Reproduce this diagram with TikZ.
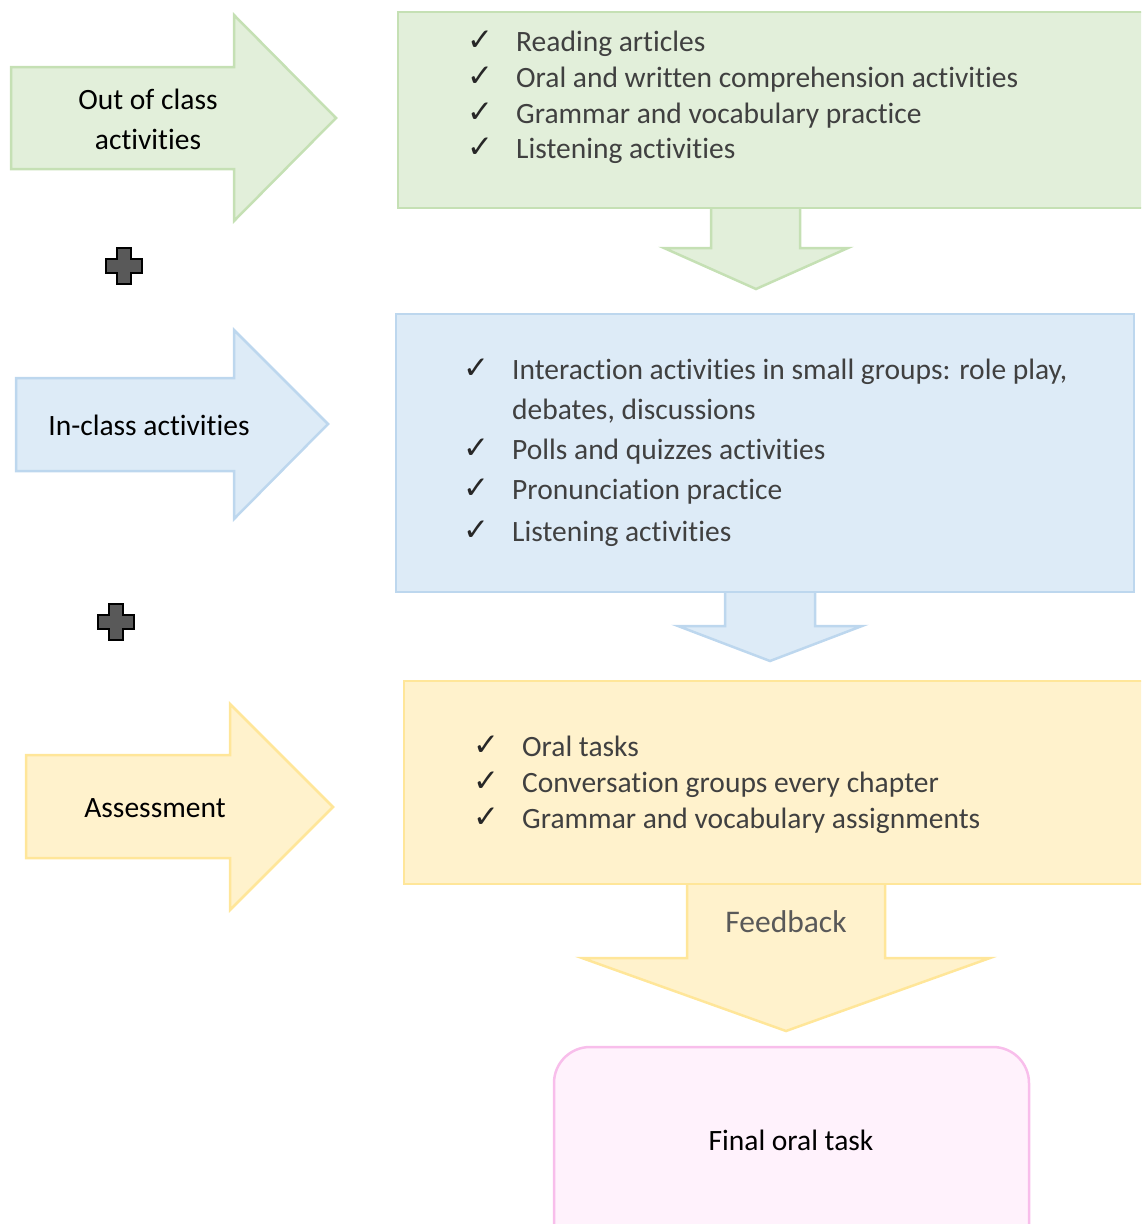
\documentclass[tikz,border=0pt]{standalone}
\usepackage{fontspec}
\setmainfont[Ligatures=CommonOff]{Carlito}
\newfontfamily\symfont{DejaVu Sans}
\definecolor{gfill}{HTML}{E2EFDA}
\definecolor{gline}{HTML}{C5E0B4}
\definecolor{bfill}{HTML}{DDEBF7}
\definecolor{bline}{HTML}{BDD7EE}
\definecolor{yfill}{HTML}{FFF2CC}
\definecolor{yline}{HTML}{FFE699}
\definecolor{pfill}{HTML}{FFF2FC}
\definecolor{pline}{HTML}{F8BEEB}
\definecolor{itemtext}{HTML}{404040}
\definecolor{fbtext}{HTML}{595959}
\definecolor{plusfill}{HTML}{595959}
\begin{document}
\begin{tikzpicture}[x=1pt,y=-1pt,
  shapeG/.style={fill=gfill,draw=gline,line width=2.5pt},
  shapeB/.style={fill=bfill,draw=bline,line width=2.5pt},
  shapeY/.style={fill=yfill,draw=yline,line width=2.5pt},
  shapeP/.style={fill=pfill,draw=pline,line width=2.5pt},
  lbl/.style={font=\fontsize{29.5}{40}\selectfont,text=black,align=center,inner sep=0pt},
  item/.style={font=\fontsize{29.5}{34}\selectfont,text=itemtext,anchor=base west,inner sep=0pt},
  tick/.style={font=\symfont\fontsize{31}{34}\selectfont,text=itemtext!60!black,anchor=base west,inner sep=0pt},
  plusshape/.style={fill=plusfill,draw=black,line width=2.8pt}]
\useasboundingbox (0,0) rectangle (1141,1224);
\clip (0,0) rectangle (1141,1224);

% ---------- green row ----------
\draw[shapeG] (11,67) -- (234,67) -- (234,15) -- (336,118) -- (234,221) -- (234,169) -- (11,169) -- cycle;
\node[lbl] (outlbl) at (148,119) {Out of class\\activities};
\draw[shapeG] (711,200) -- (800,200) -- (800,248) -- (848,248) -- (756,289) -- (664,248) -- (711,248) -- cycle;
\draw[shapeG] (398,12) rectangle (1150,208);
\node[tick] (g1t) at (467,50) {✓};
\node[item] (g1) at (516,51) {Reading articles};
\node[tick] (g2t) at (467,86) {✓};
\node[item] (g2) at (516,87) {Oral and written comprehension activities};
\node[tick] (g3t) at (467,122) {✓};
\node[item] (g3) at (516,123) {Grammar and vocabulary practice};
\node[tick] (g4t) at (467,157) {✓};
\node[item] (g4) at (516,158) {Listening activities};

% plus 1
\draw[plusshape] (117,248) -- (131,248) -- (131,259) -- (142,259) -- (142,273) -- (131,273) -- (131,284) -- (117,284) -- (117,273) -- (106,273) -- (106,259) -- (117,259) -- cycle;

% ---------- blue row ----------
\draw[shapeB] (16,378) -- (234,378) -- (234,330) -- (328,424) -- (234,519) -- (234,471) -- (16,471) -- cycle;
\node[lbl] (inlbl) at (149,425) {In-class activities};
\draw[shapeB] (725,584) -- (815,584) -- (815,626) -- (862,626) -- (770,661) -- (678,626) -- (725,626) -- cycle;
\draw[shapeB] (396,314) rectangle (1134,592);
\node[tick] (b1t) at (463,378) {✓};
\node[item] (b1) at (512,379) {Interaction activities in small groups: role play,};
\node[item] (b1b) at (512,419) {debates, discussions};
\node[tick] (b2t) at (463,458) {✓};
\node[item] (b2) at (512,459) {Polls and quizzes activities};
\node[tick] (b3t) at (463,498) {✓};
\node[item] (b3) at (512,499) {Pronunciation practice};
\node[tick] (b4t) at (463,540) {✓};
\node[item] (b4) at (512,541) {Listening activities};

% plus 2
\draw[plusshape] (109,604) -- (123,604) -- (123,615) -- (134,615) -- (134,629) -- (123,629) -- (123,640) -- (109,640) -- (109,629) -- (98,629) -- (98,615) -- (109,615) -- cycle;

% ---------- yellow row ----------
\draw[shapeY] (26,755) -- (230,755) -- (230,704) -- (333,807) -- (230,910) -- (230,858) -- (26,858) -- cycle;
\node[lbl] (aslbl) at (155,808) {Assessment};
\draw[shapeY] (687,876) -- (885,876) -- (885,958) -- (990,958) -- (786,1031) -- (582,958) -- (687,958) -- cycle;
\draw[shapeY] (404,681) rectangle (1150,884);
\node[font=\fontsize{31.5}{36}\selectfont,text=fbtext,inner sep=0pt] (fb) at (786,922) {Feedback};
\node[tick] (y1t) at (473,755) {✓};
\node[item] (y1) at (522,756) {Oral tasks};
\node[tick] (y2t) at (473,791) {✓};
\node[item] (y2) at (522,792) {Conversation groups every chapter};
\node[tick] (y3t) at (473,827) {✓};
\node[item] (y3) at (522,828) {Grammar and vocabulary assignments};

% ---------- final ----------
\draw[shapeP,rounded corners=36pt] (554,1047) rectangle (1029,1260);
\node[lbl] (final) at (791,1140) {Final oral task};
\end{tikzpicture}
\end{document}
